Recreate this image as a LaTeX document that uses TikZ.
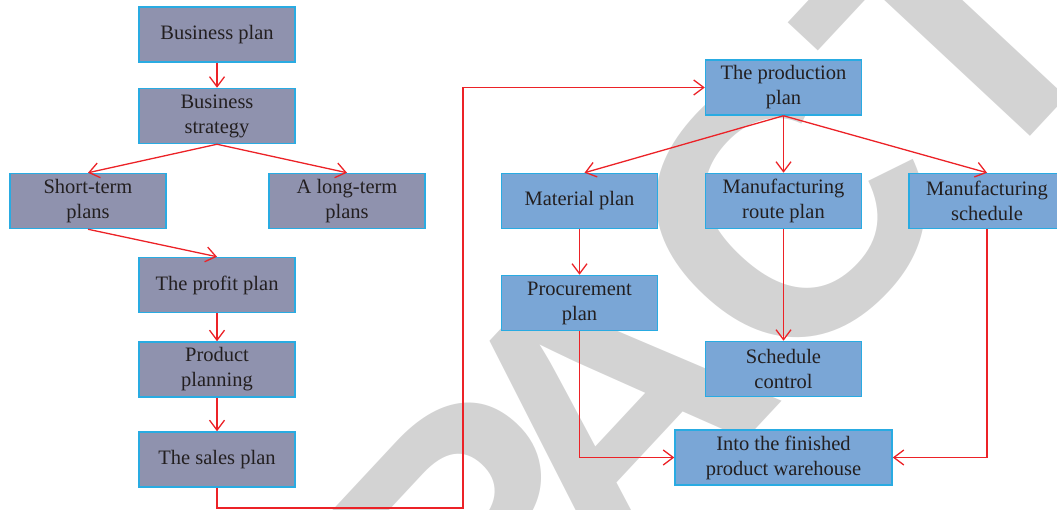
\documentclass[tikz,border=0pt]{standalone}
\usepackage{fontspec}
\setmainfont{Liberation Serif}
\newfontfamily\markfont{Liberation Sans}
\usetikzlibrary{arrows.meta}

\definecolor{lfill}{RGB}{143,146,174}
\definecolor{rfill}{RGB}{122,166,214}
\definecolor{edge}{RGB}{41,171,226}
\definecolor{ink}{RGB}{35,31,32}
\definecolor{linkred}{RGB}{236,34,39}
\definecolor{wm}{RGB}{211,211,211}

\tikzset{
  box/.style={draw=edge, line width=1.5pt, minimum width=156pt, minimum height=55pt,
    inner sep=0pt, align=center, text=ink, font=\fontsize{20.5}{25}\selectfont},
  lbox/.style={box, fill=lfill},
  rbox/.style={box, fill=rfill},
  link/.style={draw=linkred, line width=1.3pt, -{Straight Barb[length=10pt,width=15pt]}},
  stamp/.style={text=wm, inner sep=0pt, font=\markfont\bfseries\fontsize{370}{370}\selectfont}
}

\begin{document}
\begin{tikzpicture}[x=1pt,y=-1pt]
\useasboundingbox (0,0) rectangle (1057,510);

% background stamp
\begin{scope}
  \clip (0,0) rectangle (1057,510);
  \node[stamp, rotate=47] (stampword) at (632,376) {RETR\kern-80pt ACTED};
\end{scope}

% business side
\node[lbox] (bp)  at (217,34.5)  {Business plan};
\node[lbox] (bs)  at (217,116)   {Business\\strategy};
\node[lbox] (st)  at (88,201)    {Short-term\\plans};
\node[lbox] (lt)  at (347,201)   {A long-term\\plans};
\node[lbox] (pp)  at (217,285)   {The profit plan};
\node[lbox] (prp) at (217,369.5) {Product\\planning};
\node[lbox] (sp)  at (217,459.5) {The sales plan};

% production side
\node[rbox] (prod)  at (783.5,87.5) {The production\\plan};
\node[rbox] (mat)   at (579.5,201)  {Material plan};
\node[rbox] (route) at (783.5,201)  {Manufacturing\\route plan};
\node[rbox] (sched) at (987,201)    {Manufacturing\\schedule};
\node[rbox] (proc)  at (579.5,303)  {Procurement\\plan};
\node[rbox] (sc)    at (783.5,369)  {Schedule\\control};
\node[rbox, minimum width=217pt] (into) at (783.5,457.5) {Into the finished\\product warehouse};

\coordinate (turn) at (463,508);

% connectors
\draw[link] (bp.south) -- (bs.north);
\draw[link] (bs.south) -- (st.north);
\draw[link] (bs.south) -- (lt.north);
\draw[link] (st.south) -- (pp.north);
\draw[link] (pp.south) -- (prp.north);
\draw[link] (prp.south) -- (sp.north);
\draw[link] (sp.south) |- (turn) |- (prod.west);

\draw[link] (prod.south) -- ([xshift=5pt]mat.north);
\draw[link] (prod.south) -- (route.north);
\draw[link] (prod.south) -- (sched.north);
\draw[link] (mat.south) -- (proc.north);
\draw[link] (route.south) -- (sc.north);
\draw[link] (proc.south) |- (into.west);
\draw[link] (sched.south) |- (into.east);
\end{tikzpicture}
\end{document}
